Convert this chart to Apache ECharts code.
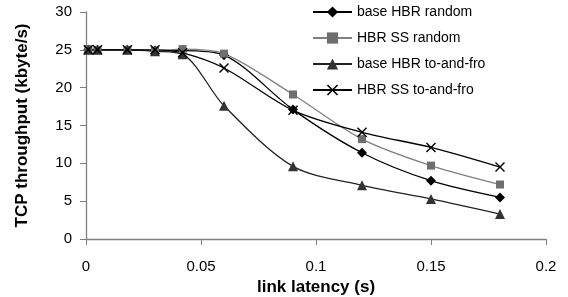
<!DOCTYPE html>
<html>
<head>
<meta charset="utf-8">
<script src="https://cdn.jsdelivr.net/npm/echarts@6/dist/echarts.min.js"></script>
<style>
html, body { margin: 0; padding: 0; background: #fff; }
#chart { width: 568px; height: 297px; }
</style>
</head>
<body>
<div id="chart"></div>
<script>
// link latency (s)
var latency = [0.001, 0.005, 0.018, 0.03, 0.042, 0.06, 0.09, 0.12, 0.15, 0.18];
var baseRandom = [25.0, 25.0, 25.0, 24.9, 24.9, 24.3, 17.1, 11.4, 7.7, 5.5];
var ssRandom = [25.1, 25.0, 25.0, 24.9, 25.1, 24.5, 19.1, 13.2, 9.7, 7.2];
var baseToFro = [25.0, 25.0, 25.0, 24.8, 24.4, 17.6, 9.6, 7.1, 5.3, 3.3];
var ssToFro = [25.0, 25.0, 25.0, 25.0, 24.6, 22.6, 17.0, 14.1, 12.1, 9.5];
var names = ['base HBR random', 'HBR SS random', 'base HBR to-and-fro', 'HBR SS to-and-fro'];

var crossPath = 'path://M0,1 L1,0 L5,4 L9,0 L10,1 L6,5 L10,9 L9,10 L5,6 L1,10 L0,9 L4,5 Z';
var font = 'Liberation Sans, Arial, sans-serif';

function pairs(ys) {
  return latency.map(function (x, i) { return [x, ys[i]]; });
}

function makeSeries(name, ys, symbol, size, color, lineColor) {
  return {
    name: name,
    type: 'line',
    data: pairs(ys),
    smooth: 0.3,
    symbol: symbol,
    symbolSize: size,
    showAllSymbol: true,
    itemStyle: { color: color },
    lineStyle: { color: lineColor, width: 1.3 },
    emphasis: { disabled: true }
  };
}

var chart = echarts.init(document.getElementById('chart'));
chart.setOption({
  animation: false,
  backgroundColor: '#fff',
  textStyle: { fontFamily: font },
  grid: { left: 86, right: 22, top: 12, bottom: 58, containLabel: false, outerBoundsMode: 'none' },
  legend: {
    orient: 'vertical',
    left: 307,
    top: 0,
    itemWidth: 39,
    itemHeight: 14,
    itemGap: 12,
    data: names,
    textStyle: { fontSize: 14, color: '#000', fontFamily: font }
  },
  xAxis: {
    type: 'value',
    min: 0,
    max: 0.2,
    interval: 0.05,
    name: 'link latency (s)',
    nameLocation: 'middle',
    nameGap: 31,
    nameTextStyle: { fontWeight: 'bold', fontSize: 17, color: '#000' },
    axisLine: { lineStyle: { color: '#808080', width: 1.3 } },
    axisTick: { show: true, length: 6, lineStyle: { color: '#808080' } },
    axisLabel: { fontSize: 15, color: '#000', margin: 20 },
    splitLine: { show: false }
  },
  yAxis: {
    type: 'value',
    min: 0,
    max: 30,
    interval: 5,
    name: 'TCP throughput (kbyte/s)',
    nameLocation: 'middle',
    nameGap: 55,
    nameTextStyle: { fontWeight: 'bold', fontSize: 17, color: '#000' },
    axisLine: { show: true, lineStyle: { color: '#808080', width: 1.3 } },
    axisTick: { show: true, length: 6, lineStyle: { color: '#808080' } },
    axisLabel: { fontSize: 15, color: '#000', margin: 14 },
    splitLine: { show: false }
  },
  series: [
    makeSeries(names[0], baseRandom, 'diamond', 10, '#000', '#000'),
    makeSeries(names[1], ssRandom, 'rect', 8, '#6e6e6e', '#808080'),
    makeSeries(names[2], baseToFro, 'triangle', 10, '#333', '#222'),
    makeSeries(names[3], ssToFro, crossPath, 10, '#000', '#000')
  ]
});
</script>
</body>
</html>
